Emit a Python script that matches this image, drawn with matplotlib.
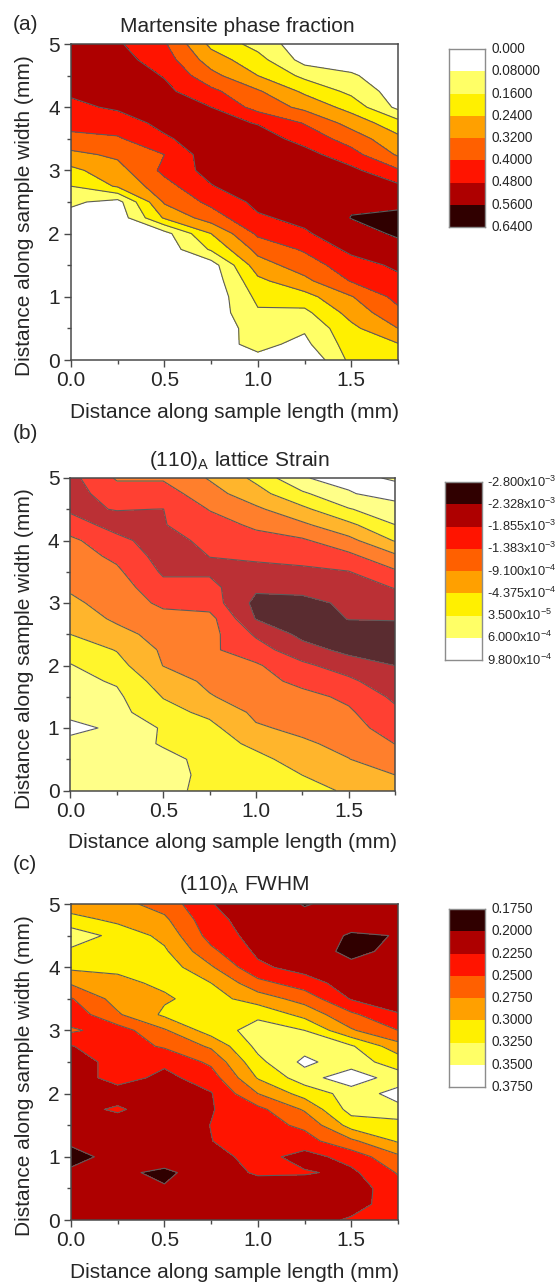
import numpy as np
import matplotlib
matplotlib.use("Agg")
import matplotlib.pyplot as plt
from matplotlib.colors import ListedColormap, BoundaryNorm

plt.rcParams['font.family'] = ['Liberation Sans', 'DejaVu Sans']
plt.rcParams['mathtext.default'] = 'regular'

# grid of the maps
x_mm = [0, .25, .5, .75, 1, 1.25, 1.5, 1.75]
y_mm = [5, 4.75, 4.5, 4.25, 4, 3.75, 3.5, 3.25, 3, 2.75, 2.5, 2.25, 2, 1.75, 1.5, 1.25, 1, .75, .5, .25, 0]

# (a) Martensite phase fraction, one list per x position, top to bottom
a_x000 = [.52,.51,.50,.49,.465,.43,.375,.30,.22,.16,.095,.05,.04,.03,.03,.03,.03,.03,.03,.03,.03]
a_x025 = [.49,.51,.53,.51,.49,.445,.39,.335,.29,.25,.05,.03,.03,.03,.03,.03,.03,.03,.03,.03,.03]
a_x050 = [.41,.44,.475,.50,.52,.50,.47,.40,.42,.37,.33,.25,.05,.03,.03,.03,.03,.03,.03,.03,.03]
a_x075 = [.22,.28,.345,.42,.48,.51,.52,.53,.51,.475,.42,.36,.24,.17,.04,.03,.02,.03,.03,.05,.03]
a_x100 = [.13,.19,.24,.33,.37,.475,.52,.54,.55,.54,.50,.47,.415,.345,.285,.22,.18,.15,.115,.10,.06]
a_x125 = [.03,.05,.14,.225,.30,.395,.45,.51,.54,.55,.53,.50,.47,.41,.36,.30,.21,.14,.09,.06,.0]
a_x150 = [.02,.04,.09,.14,.21,.29,.365,.43,.50,.53,.55,.562,.53,.50,.445,.405,.315,.27,.22,.20,.182]
a_x175 = [.02,.02,.03,.04,.06,.19,.26,.31,.41,.495,.54,.58,.57,.535,.495,.46,.425,.38,.32,.235,.20]
a_levels = [0, .08, .16, .24, .32, .40, .48, .56, .64]
a_labels = ['0.000', '0.08000', '0.1600', '0.2400', '0.3200', '0.4000', '0.4800', '0.5600', '0.6400']

# (b) lattice strain in units of 1e-3
b_x000 = [-2.0,-2.05,-1.92,-1.68,-1.27,-1.17,-1.07,-.97,-.82,-.60,-.44,-.17,.06,.15,.25,.40,.62,.38,.30,.25,.20]
b_x025 = [-1.33,-1.6,-1.84,-2.0,-1.75,-1.48,-1.30,-1.15,-1.1,-1.0,-.74,-.46,-.27,-.01,.12,.18,.43,.30,.30,.28,.25]
b_x050 = [-1.33,-1.6,-1.86,-1.88,-2.05,-2.05,-1.92,-1.72,-1.48,-1.22,-1.1,-.98,-.92,-.68,-.46,-.27,-.02,-.015,.18,.20,.20]
b_x075 = [-.87,-1.10,-1.36,-1.58,-1.72,-1.85,-1.92,-1.72,-1.6,-1.22,-1.22,-1.3,-1.1,-1.0,-.88,-.55,-.3,-.2,-.108,-.075,-.117]
b_x100 = [-.33,-.62,-1.0,-1.3,-1.55,-1.8,-1.95,-2.25,-2.45,-2.35,-1.92,-1.65,-1.32,-1.22,-1.1,-1.0,-.86,-.55,-.3,-.2,-.15]
b_x125 = [.49,-.05,-.55,-1.0,-1.45,-1.7,-1.95,-2.2,-2.45,-2.6,-2.45,-2.15,-1.75,-1.5,-1.25,-1.1,-1.0,-.85,-.65,-.44,-.3]
b_x150 = [.60,.48,.0,-.55,-1.05,-1.5,-1.87,-2.1,-2.25,-2.31,-2.55,-2.45,-2.1,-1.75,-1.47,-1.32,-1.26,-1.02,-.9,-.7,-.49]
b_x175 = [.47,.65,.35,.03,-.40,-1.0,-1.45,-1.83,-2.1,-2.3,-2.5,-2.55,-2.33,-2.2,-1.95,-1.75,-1.53,-1.39,-1.15,-.91,-.7]
b_levels = [-2.8, -2.3275, -1.855, -1.3825, -.91, -.4375, .035, .5075, .98]
b_labels = ['-2.800x10$^{-3}$', '-2.328x10$^{-3}$', '-1.855x10$^{-3}$', '-1.383x10$^{-3}$', '-9.100x10$^{-4}$',
            '-4.375x10$^{-4}$', '3.500x10$^{-5}$', '6.000x10$^{-4}$', '9.800x10$^{-4}$']

# (c) FWHM
c_x000 = [.285,.31,.34,.32,.305,.278,.248,.234,.254,.224,.21,.21,.212,.215,.213,.208,.185,.208,.21,.21,.21]
c_x025 = [.283,.294,.317,.315,.304,.295,.285,.272,.238,.238,.236,.236,.212,.229,.21,.21,.215,.205,.21,.21,.212]
c_x050 = [.265,.28,.293,.304,.314,.304,.297,.3045,.272,.253,.23,.218,.212,.208,.21,.212,.213,.195,.202,.21,.21]
c_x075 = [.226,.233,.24,.256,.278,.30,.31,.318,.312,.279,.255,.238,.2235,.2235,.2255,.2245,.215,.213,.208,.21,.212]
c_x100 = [.21,.212,.215,.22,.23,.258,.288,.32,.335,.332,.318,.302,.275,.243,.24,.238,.235,.228,.213,.21,.212]
c_x125 = [.199,.205,.21,.21,.215,.237,.265,.292,.325,.34,.356,.338,.31,.278,.255,.24,.215,.2275,.21,.212,.215]
c_x150 = [.205,.208,.198,.195,.205,.212,.223,.255,.278,.328,.335,.368,.335,.335,.31,.27,.235,.2195,.212,.215,.228]
c_x175 = [.21,.21,.2005,.205,.21,.212,.218,.226,.25,.285,.315,.335,.36,.342,.315,.303,.27,.252,.24,.238,.236]
c_levels = [.175, .2, .225, .25, .275, .3, .325, .35, .375]
c_labels = ['0.1750', '0.2000', '0.2250', '0.2500', '0.2750', '0.3000', '0.3250', '0.3500', '0.3750']

# colours
legend_hot = ['#300000', '#ae0000', '#ff1400', '#ff6000', '#ffa000', '#fff000', '#ffff66', '#ffffff']
b_map_hot = ['#5a2c30', '#bb3035', '#ff4032', '#ff7f2c', '#ffb52c', '#fff52c', '#ffff88', '#ffffff']

W, H = 557, 1282
fig = plt.figure(figsize=(W / 100, H / 100), dpi=100, facecolor='white')
INK = '#262626'
AX = '#4a4a4a'
EDGE = '#5c5c5c'
FS = 15


def box(l, r, t, b):
    return [l / W, 1 - b / H, (r - l) / W, (b - t) / H]


def txt(x, y, s, **kw):
    kw.setdefault('ha', 'center')
    kw.setdefault('va', 'center')
    kw.setdefault('color', INK)
    fig.text(x / W, 1 - y / H, s, **kw)


def panel(cols, levels, labels, fill, rect, leg_rect, tag, tag_y, title, title_x, title_y, label_y, leg_labx, leg_fs):
    l, r, t, b = rect
    ax = fig.add_axes(box(l, r, t, b))
    Z = np.column_stack(cols)
    f_colors = fill[::-1] if levels[0] == 0 else fill
    X, Y = np.meshgrid(x_mm, y_mm)
    ax.contourf(X, Y, Z, levels=levels, colors=f_colors)
    ax.contour(X, Y, Z, levels=levels[1:-1], colors=EDGE, linewidths=0.8, linestyles='solid')
    ax.set_xlim(0, 1.75)
    ax.set_ylim(0, 5)
    ax.set_xticks([0, .5, 1, 1.5])
    ax.set_xticklabels(['0.0', '0.5', '1.0', '1.5'])
    ax.set_xticks([.25, .75, 1.25, 1.75], minor=True)
    ax.set_yticks([0, 1, 2, 3, 4, 5])
    ax.set_yticks([.5, 1.5, 2.5, 3.5, 4.5], minor=True)
    ax.tick_params(which='major', length=5, width=1, color=AX, labelsize=FS, labelcolor=INK, pad=3)
    ax.tick_params(which='minor', length=3, width=1, color=AX)
    for s in ax.spines.values():
        s.set_color(AX)
        s.set_linewidth(1.1)
    txt(234 if l > 70.7 else 232, label_y, 'Distance along sample length (mm)', fontsize=FS)
    txt(25, (t + b) / 2 + 14, 'Distance along sample width (mm)', fontsize=FS, rotation=90)
    txt(title_x, title_y, title, fontsize=FS)
    txt(13, tag_y, tag, fontsize=FS, ha='left')

    ll, lr, lt, lb = leg_rect
    lax = fig.add_axes(box(ll, lr, lt, lb))
    n = len(levels) - 1
    edges = np.arange(n + 1)
    lc = fill[::-1] if levels[0] == 0 else legend_hot
    lax.pcolormesh([0, 1], edges, np.arange(n)[:, None], cmap=ListedColormap(lc),
                   norm=BoundaryNorm(np.arange(n + 1) - .5, n))
    lax.set_ylim(n, 0)
    lax.set_xticks([])
    lax.set_yticks([])
    for s in lax.spines.values():
        s.set_color('#8c8c8c')
        s.set_linewidth(1.0)
    step = (lb - lt) / n
    for i, lab in enumerate(labels):
        txt(leg_labx, lt + i * step, lab, fontsize=leg_fs, ha='left')


panel([a_x000, a_x025, a_x050, a_x075, a_x100, a_x125, a_x150, a_x175], a_levels, a_labels,
      legend_hot, (71, 398, 44, 360), (449, 485, 49, 227), '(a)', 25, 'Martensite phase fraction', 237, 26, 413, 491, 9.8)
panel([b_x000, b_x025, b_x050, b_x075, b_x100, b_x125, b_x150, b_x175], b_levels, b_labels,
      b_map_hot, (70.5, 395, 478, 790.5), (445, 482, 482, 660), '(b)', 433, '(110)$_{A}$ lattice Strain', 239, 460, 842, 487, 9.3)
panel([c_x000, c_x025, c_x050, c_x075, c_x100, c_x125, c_x150, c_x175], c_levels, c_labels,
      legend_hot, (71, 398, 904, 1220), (449, 485, 909, 1087), '(c)', 865, '(110)$_{A}$ FWHM', 244, 885, 1272, 491, 9.8)

fig.savefig('out.png', dpi=100, facecolor='white')
